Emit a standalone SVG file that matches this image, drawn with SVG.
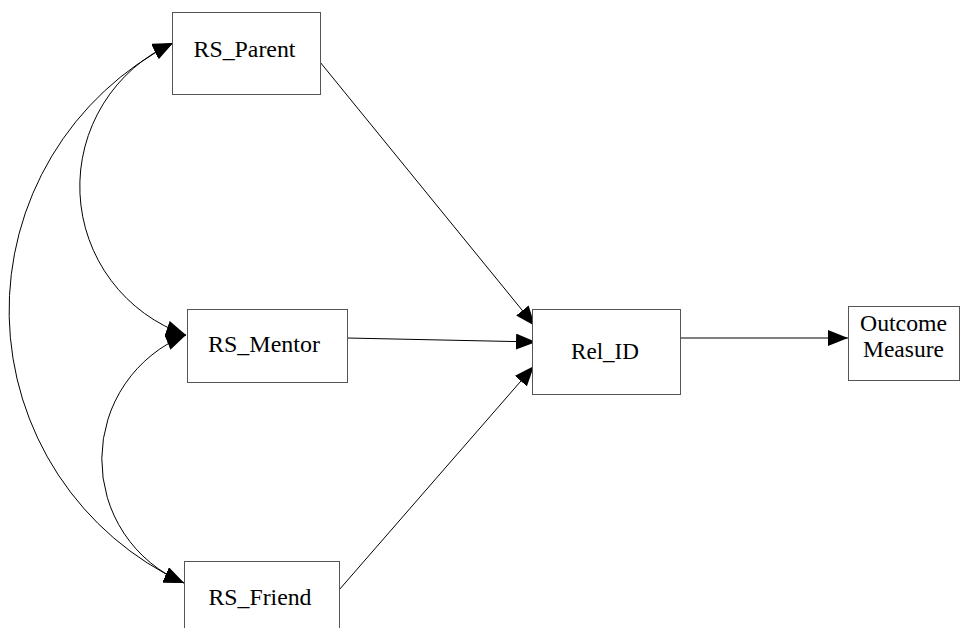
<svg xmlns="http://www.w3.org/2000/svg" width="962" height="628" viewBox="0 0 962 628">
<style>
.box{fill:#fff;stroke:#555;stroke-width:1}
.lbl{font-family:"Liberation Serif","Times New Roman",serif;font-size:23px;fill:#000;text-anchor:middle}
.edge{fill:none;stroke:#000;stroke-width:1}
</style>
<defs>
<marker id="ah" markerUnits="userSpaceOnUse" markerWidth="20" markerHeight="16" refX="20" refY="8" orient="auto-start-reverse" viewBox="0 0 20 16">
<path d="M0,0 L20,8 L0,16 Z" fill="#000"/>
</marker>
</defs>
<rect width="962" height="628" fill="#fff"/>
<g id="connectors">
<path class="edge" d="M173,43 A157,157 0 0,0 186,335" marker-start="url(#ah)" marker-end="url(#ah)"/>
<path class="edge" d="M173,43 A300,300 0 0,0 184,583" marker-start="url(#ah)" marker-end="url(#ah)"/>
<path class="edge" d="M186,335 A134,134 0 0,0 184,583" marker-start="url(#ah)" marker-end="url(#ah)"/>
<path class="edge" d="M320,62 L535,326" marker-end="url(#ah)"/>
<path class="edge" d="M347,338 L536,342" marker-end="url(#ah)"/>
<path class="edge" d="M339,590 L534,366" marker-end="url(#ah)"/>
<path class="edge" d="M680,338 L848,338" marker-end="url(#ah)"/>
</g>
<g id="rs_parent">
<rect class="box" x="172.5" y="12.5" width="148" height="82"/>
<text class="lbl" x="244.5" y="57" textLength="102" lengthAdjust="spacingAndGlyphs">RS_Parent</text>
</g>
<g id="rs_mentor">
<rect class="box" x="187.5" y="309.5" width="160" height="73"/>
<text class="lbl" x="264" y="352" textLength="112" lengthAdjust="spacingAndGlyphs">RS_Mentor</text>
</g>
<g id="rs_friend">
<rect class="box" x="184.5" y="561.5" width="155" height="85"/>
<text class="lbl" x="260" y="605" textLength="103" lengthAdjust="spacingAndGlyphs">RS_Friend</text>
</g>
<g id="rel_id">
<rect class="box" x="532.5" y="309.5" width="148" height="85"/>
<text class="lbl" x="605" y="359" textLength="68" lengthAdjust="spacingAndGlyphs">Rel_ID</text>
</g>
<g id="outcome">
<rect class="box" x="848.5" y="306.5" width="111" height="74"/>
<text class="lbl" x="903.5" y="331" textLength="87" lengthAdjust="spacingAndGlyphs">Outcome</text>
<text class="lbl" x="903.5" y="357" textLength="81" lengthAdjust="spacingAndGlyphs">Measure</text>
</g>
</svg>
